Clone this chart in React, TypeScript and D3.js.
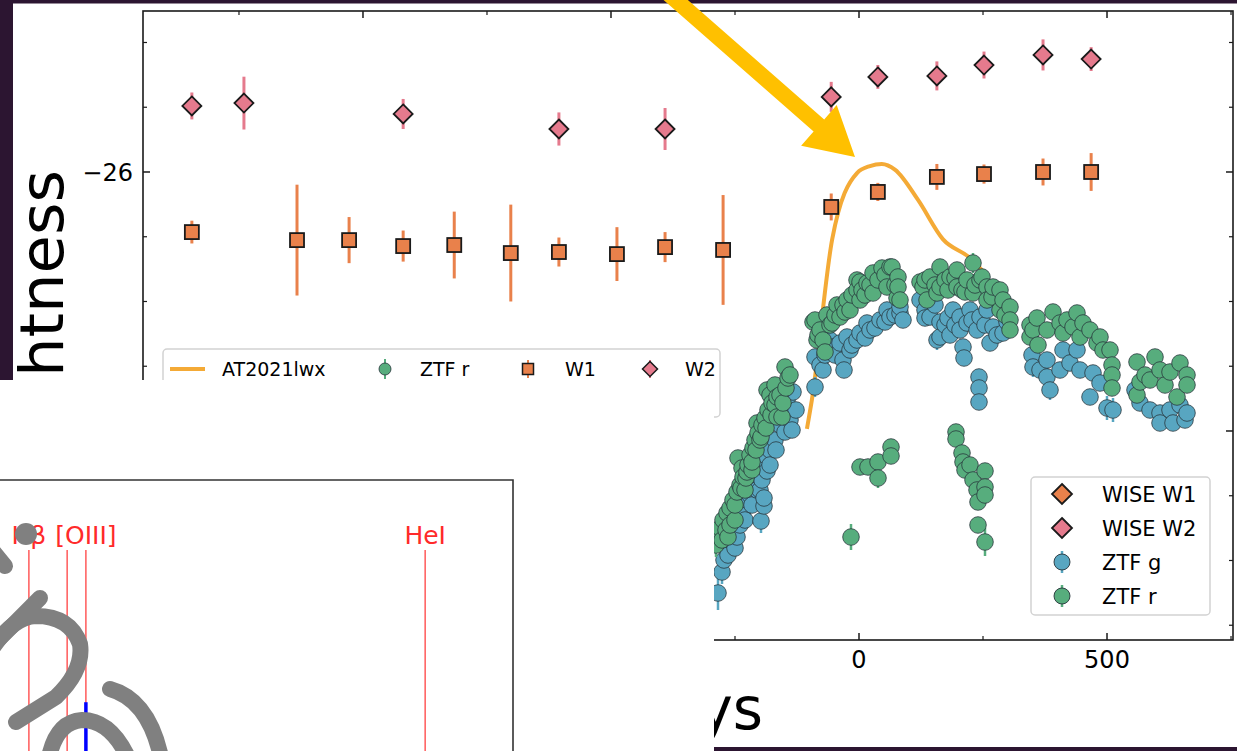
import React from "react";
import * as d3 from "d3";

const WIDTH = 1237;
const HEIGHT = 751;
const FONT = "DejaVu Sans, Verdana, sans-serif";

// ---------- axis ticks ----------
const xMajorTicks = [-1000, -500, 0, 500];
const xMinorTicks = [-1250, -750, -250, 250, 750];
const xTickLabels = [0, 500];
const yMajorTicks = [-26, -25];
const yMinorTicks = [-26.5, -26.25, -25.75, -25.5, -25.25, -24.75, -24.5, -24.25];
const yTickLabels = [-26];

// ---------- AT2021lwx comparison curve ----------
const lwxDays = [-105, -95, -54, -4, 22, 46, 73, 119, 169, 224, 260];
const lwxMag = [-25.008, -25.12, -25.741, -25.996, -26.023, -26.031, -26.008, -25.892, -25.741, -25.668, -25.595];

// ---------- WISE W1 (squares) ----------
const w1Days = [-1345, -1133, -1028, -919, -816, -702, -605, -488, -391, -274, -56, 38, 157, 252, 371, 468];
const w1Mag = [-25.768, -25.737, -25.737, -25.714, -25.718, -25.687, -25.691, -25.683, -25.71, -25.699, -25.865, -25.923, -25.981, -25.992, -26.0, -26.0];
const w1Err = [0.044, 0.214, 0.089, 0.06, 0.129, 0.187, 0.056, 0.104, 0.058, 0.212, 0.052, 0.035, 0.05, 0.037, 0.052, 0.073];

// ---------- WISE W2 (diamonds) ----------
const w2Days = [-1345, -1240, -919, -605, -391, -56, 38, 157, 252, 371, 468];
const w2Mag = [-26.255, -26.266, -26.224, -26.166, -26.166, -26.29, -26.367, -26.371, -26.413, -26.452, -26.436];
const w2Err = [0.052, 0.102, 0.058, 0.064, 0.081, 0.058, 0.046, 0.056, 0.052, 0.06, 0.046];

// ---------- ZTF g  [day, mag, err] ----------
const ztfG: number[][] = [
  [-282, 20.93, 0.17], [-274, 20.72, 0.12], [-270, 20.6, 0.06], [-262, 20.47, 0.06], [-262, 20.55, 0.06],
  [-252, 20.42, 0.05], [-248, 20.48, 0.05], [-244, 20.37, 0.05], [-238, 20.25, 0.05], [-232, 20.1, 0.05],
  [-228, 20.2, 0.05], [-224, 20.0, 0.05], [-218, 19.95, 0.05], [-214, 20.05, 0.05], [-208, 19.75, 0.05],
  [-204, 19.9, 0.05], [-202, 19.6, 0.05], [-198, 19.9, 0.06], [-196, 20.21, 0.12], [-194, 19.8, 0.05],
  [-190, 20.06, 0.08], [-190, 19.98, 0.08], [-188, 19.55, 0.05], [-184, 19.71, 0.05], [-178, 19.5, 0.05],
  [-178, 19.65, 0.05], [-168, 19.4, 0.05], [-166, 19.5, 0.05], [-158, 19.25, 0.05], [-154, 19.1, 0.05],
  [-152, 18.9, 0.05], [-148, 19.32, 0.05], [-144, 19.0, 0.05], [-138, 19.2, 0.06], [-134, 19.3, 0.06],
  [-132, 18.92, 0.05], [-126, 19.1, 0.06],
  [-88, 18.57, 0.05], [-88, 18.87, 0.1], [-78, 18.65, 0.05], [-72, 18.7, 0.06], [-68, 18.55, 0.05],
  [-58, 18.4, 0.05], [-52, 18.47, 0.05], [-48, 18.55, 0.05], [-38, 18.43, 0.05], [-32, 18.6, 0.06],
  [-30, 18.7, 0.08], [-24, 18.37, 0.05], [-18, 18.5, 0.05], [-14, 18.45, 0.05], [-4, 18.4, 0.05],
  [2, 18.33, 0.05], [12, 18.38, 0.05], [16, 18.23, 0.05], [22, 18.3, 0.05], [32, 18.28, 0.05],
  [42, 18.2, 0.05], [52, 18.22, 0.05], [56, 18.1, 0.05], [62, 18.17, 0.05], [72, 18.15, 0.05],
  [82, 18.13, 0.05], [82, 18.07, 0.05], [88, 18.2, 0.05],
  [122, 18.0, 0.05], [132, 18.1, 0.05], [132, 18.18, 0.05], [142, 18.17, 0.05], [152, 18.05, 0.05],
  [156, 18.4, 0.1], [162, 18.22, 0.05], [162, 18.37, 0.08], [172, 18.25, 0.05], [178, 18.18, 0.05],
  [182, 18.35, 0.05], [188, 18.1, 0.05], [192, 18.25, 0.05], [202, 18.17, 0.05], [202, 18.3, 0.05],
  [208, 18.47, 0.08], [210, 18.58, 0.08], [216, 18.23, 0.05], [222, 18.1, 0.05], [226, 18.2, 0.05],
  [236, 18.3, 0.05], [240, 18.77, 0.06], [240, 18.88, 0.06], [240, 19.02, 0.06], [242, 18.17, 0.05],
  [252, 18.25, 0.05], [256, 18.1, 0.05], [262, 18.43, 0.06], [268, 18.27, 0.05], [276, 18.35, 0.05],
  [288, 18.33, 0.05], [296, 18.22, 0.05],
  [346, 18.55, 0.05], [348, 18.67, 0.1], [362, 18.7, 0.05], [376, 18.6, 0.05], [376, 18.77, 0.06],
  [382, 18.9, 0.1], [402, 18.7, 0.05], [408, 18.5, 0.05], [422, 18.63, 0.05], [436, 18.5, 0.05],
  [442, 18.7, 0.05], [462, 18.97, 0.06], [468, 18.73, 0.05], [482, 18.83, 0.05], [496, 19.08, 0.12],
  [508, 19.1, 0.12],
  [552, 18.9, 0.05], [562, 19.03, 0.06], [582, 19.1, 0.05], [602, 19.13, 0.05], [602, 19.23, 0.05],
  [622, 19.1, 0.05], [628, 19.23, 0.05], [642, 19.05, 0.05], [652, 19.2, 0.05], [656, 19.13, 0.05],
];

// ---------- ZTF r  [day, mag, err] ----------
const ztfR: number[][] = [
  [-286, 20.45, 0.12], [-282, 20.35, 0.06], [-278, 20.28, 0.05], [-274, 20.4, 0.05], [-272, 20.2, 0.05],
  [-266, 20.3, 0.05], [-264, 20.13, 0.05], [-262, 20.37, 0.08], [-258, 20.08, 0.05], [-258, 20.25, 0.05],
  [-252, 20.0, 0.05], [-248, 20.2, 0.06], [-248, 20.05, 0.05], [-244, 19.92, 0.05], [-242, 19.58, 0.05],
  [-238, 19.85, 0.05], [-236, 19.88, 0.05], [-234, 19.68, 0.05], [-232, 19.77, 0.05], [-228, 19.9, 0.06],
  [-226, 19.78, 0.05], [-224, 19.72, 0.05], [-222, 19.65, 0.05], [-218, 19.55, 0.05], [-214, 19.7, 0.05],
  [-214, 19.62, 0.05], [-212, 19.48, 0.05], [-208, 19.4, 0.05], [-206, 19.5, 0.05], [-204, 19.23, 0.08],
  [-202, 19.33, 0.05], [-198, 19.4, 0.05], [-196, 19.37, 0.05], [-194, 19.25, 0.05], [-188, 19.18, 0.05],
  [-186, 19.28, 0.05], [-184, 18.9, 0.05], [-182, 19.1, 0.05], [-178, 18.95, 0.05], [-176, 19.15, 0.05],
  [-174, 19.03, 0.05], [-168, 18.85, 0.05], [-168, 19.05, 0.05], [-164, 18.97, 0.05], [-164, 19.17, 0.05],
  [-158, 18.95, 0.05], [-154, 19.17, 0.05], [-152, 19.03, 0.05], [-148, 18.67, 0.05], [-146, 18.88, 0.05],
  [-142, 18.78, 0.05], [-138, 18.75, 0.05],
  [-92, 18.22, 0.05], [-88, 18.2, 0.05], [-84, 18.4, 0.05], [-82, 18.35, 0.05], [-78, 18.3, 0.05],
  [-72, 18.4, 0.05], [-68, 18.52, 0.05], [-64, 18.15, 0.05], [-58, 18.25, 0.05], [-54, 18.23, 0.05],
  [-48, 18.15, 0.05], [-44, 18.05, 0.05], [-38, 18.17, 0.05], [-32, 18.05, 0.05], [-28, 18.12, 0.05],
  [-24, 18.0, 0.05], [-18, 18.1, 0.05], [-14, 17.95, 0.05], [-4, 17.8, 0.05], [-4, 17.9, 0.05],
  [2, 18.0, 0.05], [2, 17.82, 0.05], [6, 17.9, 0.05], [12, 17.95, 0.05], [16, 17.83, 0.05],
  [22, 17.85, 0.05], [28, 17.73, 0.05], [28, 17.93, 0.05], [38, 17.8, 0.05], [46, 17.68, 0.05],
  [52, 17.75, 0.05], [56, 17.87, 0.05], [62, 17.67, 0.05], [66, 17.67, 0.05], [72, 17.85, 0.05],
  [76, 17.98, 0.05], [78, 17.77, 0.05], [78, 17.87, 0.05], [82, 18.0, 0.05],
  [122, 17.82, 0.05], [128, 17.87, 0.05], [132, 17.8, 0.05], [136, 18.0, 0.05], [142, 17.77, 0.05],
  [152, 17.85, 0.05], [156, 17.93, 0.05], [162, 17.67, 0.05], [162, 17.87, 0.05], [172, 17.8, 0.05],
  [178, 17.9, 0.05], [182, 17.77, 0.05], [192, 17.78, 0.05], [196, 17.7, 0.05], [196, 17.87, 0.05],
  [206, 17.9, 0.05], [212, 17.92, 0.05], [216, 17.8, 0.05], [228, 17.63, 0.1], [228, 17.93, 0.05],
  [232, 17.85, 0.05], [242, 17.8, 0.05], [246, 17.77, 0.05], [256, 17.87, 0.05], [256, 18.0, 0.05],
  [266, 17.97, 0.05], [268, 17.87, 0.05], [282, 17.9, 0.05], [282, 18.1, 0.05], [288, 18.0, 0.05],
  [292, 18.15, 0.05], [302, 18.07, 0.05], [302, 18.2, 0.05], [302, 18.3, 0.05],
  [-16, 20.37, 0.13], [2, 19.67, 0.08], [18, 19.67, 0.08], [38, 19.62, 0.08], [38, 19.78, 0.1],
  [64, 19.47, 0.08], [64, 19.56, 0.08], [194, 19.32, 0.06], [194, 19.39, 0.06], [206, 19.53, 0.06],
  [208, 19.62, 0.06], [212, 19.7, 0.06], [222, 19.65, 0.06], [228, 19.8, 0.06], [236, 19.9, 0.06],
  [238, 20.02, 0.06], [252, 19.71, 0.06], [252, 19.87, 0.06], [252, 19.95, 0.06], [238, 20.25, 0.08],
  [252, 20.42, 0.14],
  [342, 18.25, 0.05], [342, 18.37, 0.05], [348, 18.3, 0.05], [356, 18.18, 0.05], [358, 18.45, 0.05],
  [376, 18.3, 0.05], [388, 18.12, 0.05], [402, 18.23, 0.05], [408, 18.33, 0.05], [416, 18.2, 0.05],
  [428, 18.27, 0.05], [436, 18.13, 0.05], [442, 18.37, 0.05], [448, 18.23, 0.05], [462, 18.3, 0.05],
  [476, 18.43, 0.05], [482, 18.37, 0.05], [488, 18.5, 0.05], [502, 18.5, 0.05], [506, 18.65, 0.05],
  [506, 18.75, 0.05], [506, 18.88, 0.05],
  [556, 18.62, 0.05], [556, 18.95, 0.05], [562, 18.82, 0.05], [572, 18.75, 0.05], [582, 18.8, 0.05],
  [592, 18.57, 0.05], [602, 18.7, 0.05], [612, 18.85, 0.05], [622, 18.72, 0.05], [636, 18.97, 0.05],
  [642, 18.63, 0.05], [656, 18.75, 0.05], [656, 18.85, 0.05],
];

// ---------- spectrum inset ----------
const specLineWl = [4861, 4959, 5007, 5876];
const specLabels = ["Hβ", "[OIII]", "HeI"];
const specLabelWl = [4861, 5007, 5876];
const specPeakWl = 5007;
const specPeakFlux = 0.18;

// ---------- colours ----------
const C_DARK = "#2c1531";
const C_W1 = "#e9814b";
const C_W2 = "#e57a8d";
const C_LWX = "#f4aa36";
const C_G = "#58a6c1";
const C_R = "#57ad7d";
const C_ARROW = "#ffc000";
const C_GREY = "#808080";

// layout
const PL = 143, PR = 1233, PT = 11, PB = 640;

export default function App() {
  const x = d3.scaleLinear().domain([-1443.5, 754]).range([PL, PR]);
  const y = d3.scaleLinear().domain([-26.6216, -24.193]).range([PT, PB]);
  const zx = d3.scaleLinear().domain([0, 500]).range([859, 1109]);
  const zy = d3.scaleLinear().domain([15, 22.51]).range([0, HEIGHT]);
  const sx = d3.scaleLinear().domain([4787, 6101]).range([0, 513]);
  const sy = d3.scaleLinear().domain([0, 1]).range([751, 480]);

  const lwxLine = d3
    .line<number>()
    .x((_, i) => x(lwxDays[i]))
    .y((_, i) => y(lwxMag[i]))
    .curve(d3.curveMonotoneX)(lwxDays);

  const diamond = (cx: number, cy: number, r: number) =>
    `M${cx},${cy - r}L${cx + r},${cy}L${cx},${cy + r}L${cx - r},${cy}Z`;

  // arrow geometry
  const aStart = [662, -12];
  const aTip = [855, 157];
  const dx = aTip[0] - aStart[0], dy = aTip[1] - aStart[1];
  const L = Math.hypot(dx, dy);
  const u = [dx / L, dy / L];
  const n = [-u[1], u[0]];
  const headLen = 48, headHalf = 27, shaftHalf = 8;
  const base = [aTip[0] - u[0] * headLen, aTip[1] - u[1] * headLen];
  const pts = [
    [aStart[0] + n[0] * shaftHalf, aStart[1] + n[1] * shaftHalf],
    [base[0] + n[0] * shaftHalf, base[1] + n[1] * shaftHalf],
    [base[0] + n[0] * headHalf, base[1] + n[1] * headHalf],
    aTip,
    [base[0] - n[0] * headHalf, base[1] - n[1] * headHalf],
    [base[0] - n[0] * shaftHalf, base[1] - n[1] * shaftHalf],
    [aStart[0] - n[0] * shaftHalf, aStart[1] - n[1] * shaftHalf],
  ];
  const arrowPath = "M" + pts.map((p) => `${p[0].toFixed(1)},${p[1].toFixed(1)}`).join("L") + "Z";

  const ztfSeries = (data: number[][], color: string, key: string) => (
    <g key={key}>
      {data.map((d, i) => (
        <line
          key={"e" + i}
          x1={zx(d[0])}
          x2={zx(d[0])}
          y1={zy(d[1] - d[2])}
          y2={zy(d[1] + d[2])}
          stroke={color}
          strokeWidth={2.5}
        />
      ))}
      {data.map((d, i) => (
        <circle
          key={"c" + i}
          cx={zx(d[0])}
          cy={zy(d[1])}
          r={8.3}
          fill={color}
          stroke="#26333a"
          strokeWidth={0.9}
          strokeOpacity={0.85}
        />
      ))}
    </g>
  );

  return (
    <svg
      width={WIDTH}
      height={HEIGHT}
      viewBox={`0 0 ${WIDTH} ${HEIGHT}`}
      style={{ position: "fixed", left: 0, top: 0, display: "block", background: "#fff" }}
      fontFamily={FONT}
    >
      <rect x={0} y={0} width={WIDTH} height={HEIGHT} fill="#fff" />
      {/* slide frame */}
      <rect x={0} y={0} width={WIDTH} height={3.5} fill={C_DARK} />
      <rect x={0} y={0} width={13} height={380} fill={C_DARK} />
      <rect x={714} y={747} width={WIDTH - 714} height={4} fill={C_DARK} />

      {/* big axis labels */}
      <text transform="translate(63,170) rotate(-90) scale(1.04,1)" textAnchor="end" fontSize={60} fill="#000">
        Brightness
      </text>
      <text x={763} y={729} textAnchor="end" fontSize={58} fill="#000">
        Days
      </text>

      {/* frame */}
      <rect x={PL} y={PT} width={PR - PL} height={PB - PT} fill="none" stroke="#1a1a1a" strokeWidth={1.6} />
      {xMajorTicks.map((t) => (
        <g key={"xM" + t}>
          <line x1={x(t)} x2={x(t)} y1={PT} y2={PT + 7} stroke="#1a1a1a" strokeWidth={1.5} />
          <line x1={x(t)} x2={x(t)} y1={PB} y2={PB - 7} stroke="#1a1a1a" strokeWidth={1.5} />
        </g>
      ))}
      {xMinorTicks.map((t) => (
        <g key={"xm" + t}>
          <line x1={x(t)} x2={x(t)} y1={PT} y2={PT + 4} stroke="#1a1a1a" strokeWidth={1.2} />
          <line x1={x(t)} x2={x(t)} y1={PB} y2={PB - 4} stroke="#1a1a1a" strokeWidth={1.2} />
        </g>
      ))}
      {xTickLabels.map((t) => (
        <text key={"xl" + t} x={x(t)} y={668} textAnchor="middle" fontSize={24} fill="#000">
          {t}
        </text>
      ))}
      {yMajorTicks.map((t) => (
        <g key={"yM" + t}>
          <line x1={PL} x2={PL + 7} y1={y(t)} y2={y(t)} stroke="#1a1a1a" strokeWidth={1.5} />
          <line x1={PR} x2={PR - 7} y1={y(t)} y2={y(t)} stroke="#1a1a1a" strokeWidth={1.5} />
        </g>
      ))}
      {yMinorTicks.map((t) => (
        <g key={"ym" + t}>
          <line x1={PL} x2={PL + 4} y1={y(t)} y2={y(t)} stroke="#1a1a1a" strokeWidth={1.2} />
          <line x1={PR} x2={PR - 4} y1={y(t)} y2={y(t)} stroke="#1a1a1a" strokeWidth={1.2} />
        </g>
      ))}
      {yTickLabels.map((t) => (
        <text key={"yl" + t} x={133} y={y(t) + 9} textAnchor="end" fontSize={24} fill="#000">
          {"\u2212" + Math.abs(t)}
        </text>
      ))}

      {/* AT2021lwx curve */}
      <path d={lwxLine || ""} fill="none" stroke={C_LWX} strokeWidth={4} strokeLinejoin="round" />

      {/* W2 diamonds */}
      {w2Days.map((d, i) => (
        <g key={"w2" + i}>
          <line x1={x(d)} x2={x(d)} y1={y(w2Mag[i] - w2Err[i])} y2={y(w2Mag[i] + w2Err[i])} stroke={C_W2} strokeWidth={3} />
          <path d={diamond(x(d), y(w2Mag[i]), 9.5)} fill={C_W2} stroke="#1a1a1a" strokeWidth={1.8} />
        </g>
      ))}
      {/* W1 squares */}
      {w1Days.map((d, i) => (
        <g key={"w1" + i}>
          <line x1={x(d)} x2={x(d)} y1={y(w1Mag[i] - w1Err[i])} y2={y(w1Mag[i] + w1Err[i])} stroke={C_W1} strokeWidth={3} />
          <rect x={x(d) - 7} y={y(w1Mag[i]) - 7} width={14} height={14} fill={C_W1} stroke="#1a1a1a" strokeWidth={1.8} />
        </g>
      ))}

      {/* ZTF points */}
      {ztfSeries(ztfG, C_G, "g")}
      {ztfSeries(ztfR, C_R, "r")}

      {/* upper legend */}
      <g>
        <rect x={163} y={349} width={557} height={68} rx={4} fill="#fff" fillOpacity={0.9} stroke="#d2d2d2" strokeWidth={1.5} />
        <line x1={170} x2={205} y1={369} y2={369} stroke={C_LWX} strokeWidth={4} />
        <text x={222} y={376} fontSize={19} fill="#000">AT2021lwx</text>
        <line x1={385} x2={385} y1={359} y2={379} stroke={C_R} strokeWidth={2} />
        <circle cx={385} cy={369} r={6} fill={C_R} stroke="#26333a" strokeWidth={0.8} />
        <text x={420} y={376} fontSize={19} fill="#000">ZTF r</text>
        <line x1={528} x2={528} y1={360} y2={378} stroke={C_W1} strokeWidth={2} />
        <rect x={522.5} y={363.5} width={11} height={11} fill={C_W1} stroke="#1a1a1a" strokeWidth={1.5} />
        <text x={565} y={376} fontSize={19} fill="#000">W1</text>
        <line x1={650} x2={650} y1={360} y2={378} stroke={C_W2} strokeWidth={2} />
        <path d={diamond(650, 369, 7.5)} fill={C_W2} stroke="#1a1a1a" strokeWidth={1.5} />
        <text x={685} y={376} fontSize={19} fill="#000">W2</text>
      </g>

      {/* lower legend */}
      <g>
        <rect x={1031} y={477} width={179} height={138} rx={4} fill="#fff" fillOpacity={0.9} stroke="#d2d2d2" strokeWidth={1.5} />
        <path d={diamond(1062, 494, 10)} fill={C_W1} stroke="#1a1a1a" strokeWidth={1.8} />
        <text x={1102} y={502} fontSize={21} fill="#000">WISE W1</text>
        <path d={diamond(1062, 528, 10)} fill={C_W2} stroke="#1a1a1a" strokeWidth={1.8} />
        <text x={1102} y={536} fontSize={21} fill="#000">WISE W2</text>
        <line x1={1062} x2={1062} y1={551} y2={573} stroke={C_G} strokeWidth={2.5} />
        <circle cx={1062} cy={562} r={8} fill={C_G} stroke="#26333a" strokeWidth={0.9} />
        <text x={1102} y={570} fontSize={21} fill="#000">ZTF g</text>
        <line x1={1062} x2={1062} y1={585} y2={607} stroke={C_R} strokeWidth={2.5} />
        <circle cx={1062} cy={596} r={8} fill={C_R} stroke="#26333a" strokeWidth={0.9} />
        <text x={1102} y={604} fontSize={21} fill="#000">ZTF r</text>
      </g>

      {/* spectrum inset */}
      <g>
        <rect x={0} y={380} width={714} height={HEIGHT - 380} fill="#fff" />
        <path d="M0,480H513V751" fill="none" stroke="#333" strokeWidth={1.6} />
        {specLineWl.map((wl) => (
          <line key={"sl" + wl} x1={sx(wl)} x2={sx(wl)} y1={550} y2={751} stroke="#ff5a5a" strokeWidth={1.5} />
        ))}
        <line x1={sx(specPeakWl)} x2={sx(specPeakWl)} y1={sy(0)} y2={sy(specPeakFlux)} stroke="#0000ff" strokeWidth={3.5} />
        {specLabels.map((lab, i) => (
          <text key={"lab" + i} x={sx(specLabelWl[i])} y={544} textAnchor="middle" fontSize={25} fill="#ff2a2a">
            {lab}
          </text>
        ))}
      </g>

      {/* grey hand-drawn strokes */}
      <g fill="none" stroke={C_GREY} strokeWidth={16} strokeLinecap="round" strokeLinejoin="round">
        <circle cx={26} cy={534} r={11} fill={C_GREY} stroke="none" />
        <path d="M-8,550L5,566" />
        <path d="M40,598L-12,650" />
        <path d="M-10,652Q12,617 36,616Q70,616 80,644Q84,670 56,697L16,722" />
        <path d="M110,689Q150,700 162,762" />
        <path d="M48,762Q55,722 82,720Q112,720 130,762" />
      </g>

      {/* yellow arrow */}
      <path d={arrowPath} fill={C_ARROW} />
    </svg>
  );
}
